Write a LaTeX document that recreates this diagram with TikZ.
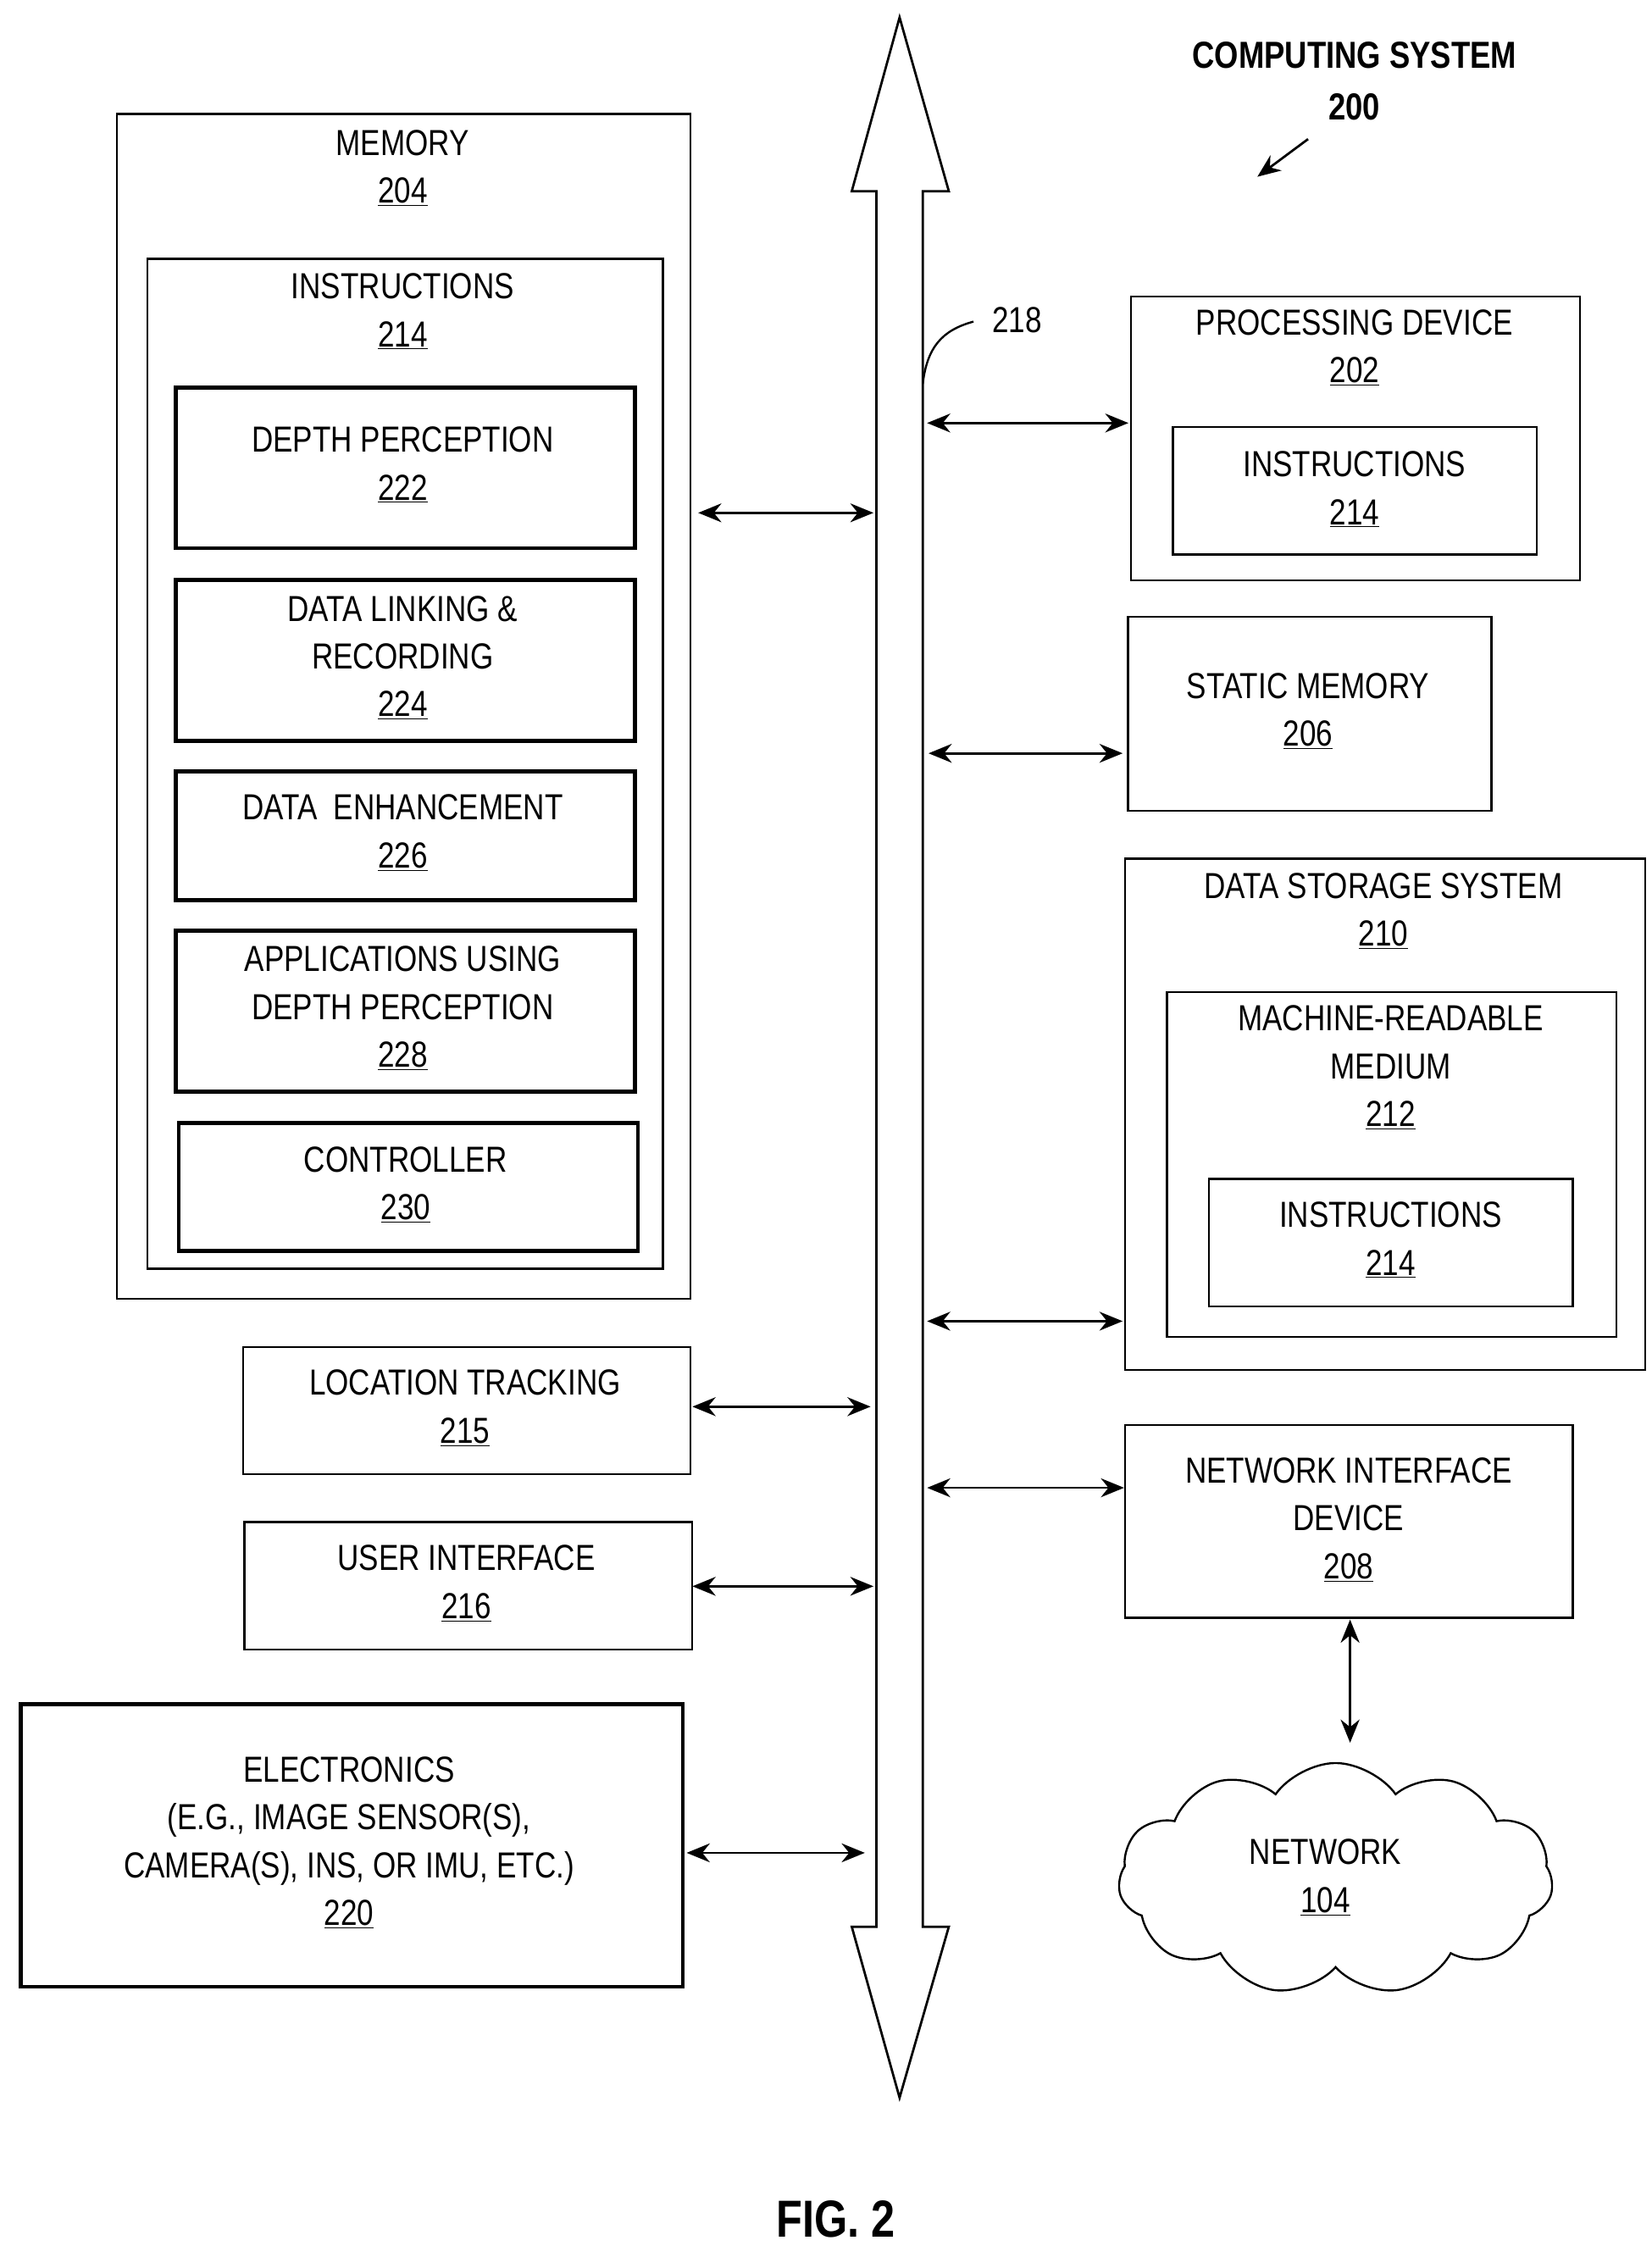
\documentclass[tikz,border=0pt]{standalone}
\usepackage{fontspec}
\setmainfont{Liberation Sans}[FakeStretch=0.82]
\usetikzlibrary{arrows.meta,shapes.symbols}
\begin{document}
\begin{tikzpicture}[x=1pt,y=-1pt,
  box/.style={draw,line width=1.4pt},
  tbox/.style={draw,line width=2.8pt},
  txt/.style={font=\fontsize{25}{33}\selectfont,align=center,inner sep=0},
  arr/.style={line width=1.6pt,{Stealth[length=16,width=13]}-{Stealth[length=16,width=13]}}]
\useasboundingbox (0,0) rectangle (1140,1558);
% bus
\draw[line width=1.6pt,fill=white] (605,132) -- (588,132) -- (621,12) -- (655,132) -- (637,132) -- (637,1330) -- (655,1330) -- (621,1448) -- (588,1330) -- (605,1330) -- cycle;
\coordinate (bus) at (621,700);
% title
\node[txt,font=\fontsize{26}{36}\selectfont\bfseries] (title) at (935,56) {COMPUTING SYSTEM\\200};
\coordinate (t1) at (903,96); \coordinate (t2) at (868,122);
\draw[line width=1.6pt,-{Stealth[length=16,width=13]}] (t1) -- (t2);
% 218
\node[txt] (l218) at (702,221) {218};
\coordinate (c1) at (637,265);
\draw[line width=1.4pt] (c1) .. controls (640,240) and (650,228) .. (672,222);
% memory
\node[box,minimum width=396,minimum height=818,anchor=north west] (mem) at (80,78) {};
\node[txt] at (278,116) {MEMORY\\\underline{204}};
\node[box,minimum width=356,minimum height=697,anchor=north west] (ins) at (101,178) {};
\node[txt] at (278,215) {INSTRUCTIONS\\\underline{214}};
\node[tbox,minimum width=317,minimum height=111,anchor=north west] (dp) at (120,266) {};
\node[txt] at (278,321) {DEPTH PERCEPTION\\\underline{222}};
\node[tbox,minimum width=317,minimum height=111,anchor=north west] (dl) at (120,399) {};
\node[txt] at (278,454) {DATA LINKING \&\\RECORDING\\\underline{224}};
\node[tbox,minimum width=317,minimum height=89,anchor=north west] (de) at (120,531) {};
\node[txt] at (278,575) {DATA\ \ ENHANCEMENT\\\underline{226}};
\node[tbox,minimum width=317,minimum height=111,anchor=north west] (ap) at (120,641) {};
\node[txt] at (278,696) {APPLICATIONS USING\\DEPTH PERCEPTION\\\underline{228}};
\node[tbox,minimum width=317,minimum height=88,anchor=north west] (ct) at (122,774) {};
\node[txt] at (280,818) {CONTROLLER\\\underline{230}};
\coordinate (m1) at (482,354); \coordinate (m2) at (603,354);
\draw[arr] (m1) -- (m2);
% location
\node[box,minimum width=309,minimum height=88,anchor=north west] (loc) at (167,929) {};
\node[txt] at (321,972) {LOCATION TRACKING\\\underline{215}};
\coordinate (a1) at (478,971); \coordinate (a2) at (601,971);
\draw[arr] (a1) -- (a2);
% UI
\node[box,minimum width=309,minimum height=88,anchor=north west] (ui) at (168,1050) {};
\node[txt] at (322,1093) {USER INTERFACE\\\underline{216}};
\coordinate (b1) at (478,1095); \coordinate (b2) at (603,1095);
\draw[arr] (b1) -- (b2);
% electronics
\node[tbox,minimum width=457,minimum height=195,anchor=north west] (el) at (13,1175) {};
\node[txt] at (241,1272) {ELECTRONICS\\(E.G., IMAGE SENSOR(S),\\CAMERA(S), INS, OR IMU, ETC.)\\\underline{220}};
\coordinate (e1) at (474,1279); \coordinate (e2) at (597,1279);
\draw[arr] (e1) -- (e2);
% processing
\node[box,minimum width=310,minimum height=196,anchor=north west] (pd) at (780,204) {};
\node[txt] at (935,240) {PROCESSING DEVICE\\\underline{202}};
\node[box,minimum width=251,minimum height=88,anchor=north west] (pi) at (809,294) {};
\node[txt] at (935,338) {INSTRUCTIONS\\\underline{214}};
\coordinate (p1) at (640,292); \coordinate (p2) at (779,292);
\draw[arr] (p1) -- (p2);
% static
\node[box,minimum width=251,minimum height=134,anchor=north west] (sm) at (778,425) {};
\node[txt] at (903,491) {STATIC MEMORY\\\underline{206}};
\coordinate (s1) at (641,520); \coordinate (s2) at (775,520);
\draw[arr] (s1) -- (s2);
% data storage
\node[box,minimum width=359,minimum height=353,anchor=north west] (ds) at (776,592) {};
\node[txt] at (955,629) {DATA STORAGE SYSTEM\\\underline{210}};
\node[box,minimum width=310,minimum height=238,anchor=north west] (mr) at (805,684) {};
\node[txt] at (960,737) {MACHINE-READABLE\\MEDIUM\\\underline{212}};
\node[box,minimum width=251,minimum height=88,anchor=north west] (mi) at (834,813) {};
\node[txt] at (960,856) {INSTRUCTIONS\\\underline{214}};
\coordinate (d1) at (640,912); \coordinate (d2) at (775,912);
\draw[arr] (d1) -- (d2);
% network interface
\node[box,minimum width=309,minimum height=133,anchor=north west] (ni) at (776,983) {};
\node[txt] at (931,1049) {NETWORK INTERFACE\\DEVICE\\\underline{208}};
\coordinate (n1) at (640,1027); \coordinate (n2) at (776,1027);
\draw[arr] (n1) -- (n2);
% cloud
\node[cloud,draw,line width=1.4pt,cloud puffs=11,cloud puff arc=110,aspect=1.9,minimum width=300,minimum height=160,inner sep=0] (net) at (922,1297) {};
\node[txt] at (915,1296) {NETWORK\\\underline{104}};
\coordinate (v1) at (932,1118); \coordinate (v2) at (932,1203);
\draw[arr] (v1) -- (v2);
% fig
\node[txt,font=\fontsize{36}{44}\selectfont\bfseries] (fig) at (577,1532) {FIG. 2};
\end{tikzpicture}
\end{document}
